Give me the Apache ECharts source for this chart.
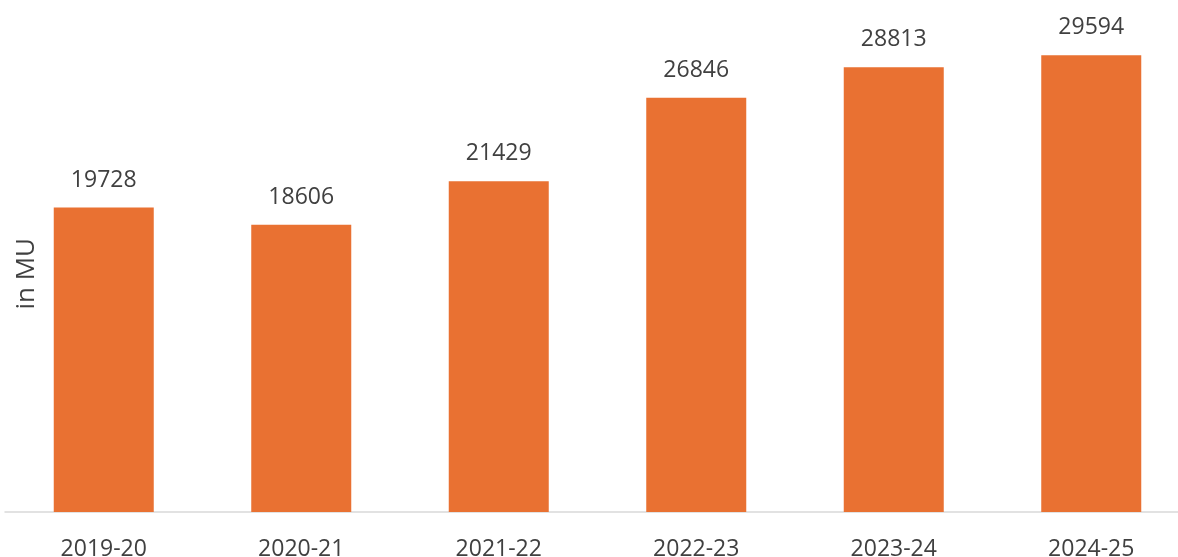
<!DOCTYPE html>
<html><head><meta charset="utf-8">
<script src="https://cdn.jsdelivr.net/npm/echarts@6/dist/echarts.min.js"></script>
<style>html,body{margin:0;padding:0;background:#fff}#c{width:1178px;height:557px}</style>
</head><body><div id="c"></div>
<script>
const categories = ['2019-20','2020-21','2021-22','2022-23','2023-24','2024-25'];
const values = [19728, 18606, 21429, 26846, 28813, 29594];
const axisTitle = 'in MU';
const chart = echarts.init(document.getElementById('c'));
chart.setOption({
  animation: false,
  textStyle: {fontFamily: 'Open Sans'},
  grid: {left: 5, width: 1185, top: 49, bottom: 45, outerBoundsMode: 'none', containLabel: false},
  xAxis: {
    type: 'category', data: categories,
    axisLine: {lineStyle: {color: '#d9d9d9', width: 1.5}},
    axisTick: {show: false},
    axisLabel: {color: '#404040', fontSize: 23, margin: 25, lineHeight: 24, fontFamily: 'Open Sans'}
  },
  yAxis: {type: 'value', min: 0, max: 30000, show: false, splitLine: {show: false}},
  graphic: [{
    type: 'text', left: 14, top: 238, rotation: Math.PI/2,
    style: {text: axisTitle, fill: '#404040', font: '26px "Open Sans"'}
  }],
  series: [{
    type: 'bar', data: values, barWidth: 100,
    itemStyle: {color: '#E97132'},
    label: {show: true, position: 'top', distance: 16, color: '#404040', fontSize: 23, fontFamily: 'Open Sans'}
  }]
});
</script></body></html>
